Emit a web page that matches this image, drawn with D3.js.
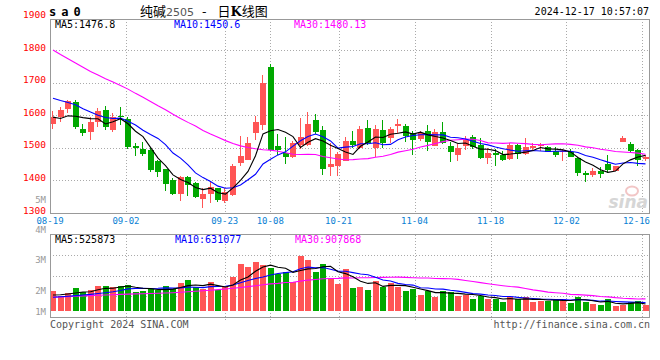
<!DOCTYPE html>
<html>
<head>
<meta charset="utf-8">
<script src="https://cdnjs.cloudflare.com/ajax/libs/d3/7.8.5/d3.min.js"></script>
<style>
  body { margin: 0; background: #fff; }
  svg { display: block; }
  text { font-family: "DejaVu Sans Mono", monospace; }
</style>
</head>
<body>
<svg id="chart" width="660" height="360"></svg>
<script>
// trading days 2024-08-19 .. 2024-12-17
var dates = ["08-19","08-20","08-21","08-22","08-23","08-26","08-27","08-28","08-29","08-30",
  "09-02","09-03","09-04","09-05","09-06","09-09","09-10","09-11","09-12","09-13",
  "09-18","09-19","09-20","09-23","09-24","09-25","09-26","09-27","09-30",
  "10-08","10-09","10-10","10-11","10-14","10-15","10-16","10-17","10-18","10-21",
  "10-22","10-23","10-24","10-25","10-28","10-29","10-30","10-31",
  "11-01","11-04","11-05","11-06","11-07","11-08","11-11","11-12","11-13","11-14","11-15",
  "11-18","11-19","11-20","11-21","11-22","11-25","11-26","11-27","11-28","11-29",
  "12-02","12-03","12-04","12-05","12-06","12-09","12-10","12-11","12-12","12-13","12-16","12-17"];

var opens = [1574,1594,1620,1642,1559,1549,1580,1617,1556,1598,1589,1505,1495,1493,1458,1434,1400,1357,1410,1391,
  1342,1358,1376,1337,1355,1452,1464,1545,1571,1749,1505,1484,1471,1510,1510,1584,1556,1441,1444,1461,
  1522,1500,1561,1500,1556,1530,1568,1568,1545,1527,1552,1507,1549,1504,1479,1504,1532,1509,1469,1483,
  1478,1466,1509,1481,1499,1504,1501,1491,1486,1488,1469,1422,1417,1430,1451,1430,1519,1512,1493,1466];
var highs = [1614,1624,1647,1647,1573,1593,1623,1629,1607,1624,1594,1515,1519,1500,1464,1436,1406,1412,1413,1395,
  1378,1395,1377,1377,1449,1535,1533,1598,1722,1756,1543,1532,1520,1591,1609,1605,1566,1515,1486,1532,
  1551,1566,1586,1571,1586,1564,1589,1574,1551,1552,1570,1557,1580,1519,1512,1537,1539,1529,1498,1496,
  1491,1514,1512,1529,1514,1514,1507,1501,1496,1496,1471,1430,1437,1440,1478,1445,1537,1519,1496,1478];
var lows = [1558,1578,1607,1558,1535,1525,1563,1556,1548,1571,1495,1476,1474,1425,1410,1367,1355,1336,1352,1347,
  1314,1332,1334,1332,1352,1444,1462,1523,1556,1490,1479,1449,1469,1495,1505,1543,1418,1413,1415,1459,
  1500,1497,1510,1472,1500,1515,1545,1518,1479,1520,1491,1504,1512,1456,1458,1493,1496,1466,1451,1445,
  1458,1463,1466,1478,1494,1489,1486,1471,1461,1471,1415,1395,1410,1407,1423,1428,1517,1488,1445,1461];
var closes = [1594,1617,1644,1563,1545,1579,1614,1565,1595,1593,1502,1499,1482,1431,1427,1388,1357,1410,1386,1349,
  1357,1379,1340,1365,1444,1474,1515,1580,1700,1493,1493,1471,1515,1532,1574,1548,1434,1450,1482,1522,
  1510,1559,1515,1559,1515,1559,1574,1537,1525,1545,1517,1549,1515,1486,1499,1524,1501,1469,1484,1479,
  1463,1509,1481,1501,1504,1509,1488,1478,1489,1473,1423,1418,1430,1420,1432,1443,1529,1491,1463,1473];

var ma5 = [1594,1590,1598,1597,1592.6,1589.6,1589,1573.2,1579.6,1589.2,1573.8,1550.8,1534.2,1501.4,1468.2,1445.4,1417,1402.6,1393.6,1378,
  1371.8,1376.2,1362.2,1358,1377,1400.4,1427.6,1475.6,1542.6,1552.4,1556.2,1547.4,1534.4,1500.8,1517,1528,1520.6,1507.6,1497.6,1487.2,
  1479.6,1504.6,1517.6,1533,1531.6,1541.4,1544.4,1548.8,1542,1548,1539.6,1534.6,1530.2,1522.4,1513.2,1514.6,1505,1495.8,1495.4,1491.4,
  1479.2,1480.8,1483.2,1486.6,1491.6,1500.8,1496.6,1496,1493.6,1487.4,1470.2,1456.2,1446.6,1432.8,1424.6,1428.6,1450.8,1463,1471.6,1476.8];
var ma10 = [1652,1645,1639,1632,1620,1610,1600,1593,1590,1590.9,1581.7,1569.9,1553.7,1540.5,1528.7,1509.6,1483.9,1468.4,1447.5,1423.1,
  1408.6,1396.6,1382.4,1375.8,1377.5,1386.1,1401.9,1418.9,1450.3,1464.7,1478.3,1487.5,1505,1521.7,1534.7,1542.1,1534,1521,1499.2,1502.1,
  1503.8,1512.6,1512.6,1515.3,1509.4,1510.5,1524.5,1533.2,1537.5,1539.8,1540.5,1539.5,1539.5,1532.2,1530.6,1527.1,1519.8,1513,1508.9,1502.3,
  1496.9,1492.9,1489.5,1491,1491.5,1490,1488.7,1489.6,1490.1,1489.5,1485.5,1476.4,1471.3,1463.2,1456,1449.4,1453.5,1454.8,1452.2,1450.6];
var ma30 = [1800,1786,1773,1760,1747,1734,1723,1712,1702,1691,1680,1667,1655,1642,1629,1617,1603,1590,1578,1567,
  1553,1542,1532,1522,1513,1506,1501,1497,1494,1492.9,1489.5,1484.7,1480.4,1479.3,1480.3,1479.3,1473.3,1469.4,1465.7,1463.3,
  1463.6,1465.6,1466.7,1470.9,1473.9,1479.6,1486.8,1491,1495.7,1502.2,1507.5,1513.2,1519,1523.1,1524.9,1526.6,1526.1,1522.4,1515.2,1514.7,
  1513.7,1515,1513.9,1512.8,1510.5,1509.2,1511,1511.9,1512.2,1510.5,1507.6,1502.9,1500.1,1495.5,1492.7,1488.8,1487.3,1485.8,1483.7,1480.13];

// volume, in 10k lots
var vols = [150,112.5,132.8,174.8,142.5,157.5,187.5,187.5,180,187.5,195,142.5,150,162.8,157.5,187.5,162.8,212.3,232.5,182.3,
  162.8,217.5,157.5,182.3,255,352.5,330,367.5,345,324.8,275.3,290.3,215.3,414.8,382.5,292.5,352.5,237.8,204.8,315,
  174.8,182.3,157.5,227.3,180,212.3,182.3,150,162.8,120,150,105,150,144.8,112.5,120,90,112.5,90,90,
  67.5,105,87.8,105,69.8,75,75,90,90,62.3,107.3,69.8,52.5,45,87.8,37.5,45,69.8,75,45];
var volMa5 = [120,122,128,135,142.5,144,159,170,171,180,187.5,178.5,171,167.6,161.6,160,164.1,176.6,190.5,195.5,
  190.5,201.5,190.5,180.5,195,233,255.5,297.5,330,344,328.5,320.6,290.1,304,315.6,319,331.5,336,294,280.5,
  257,222.9,206.9,211.4,184.4,191.9,191.9,190.4,177.5,165.5,153,137.6,137.6,134,132.5,126.5,123.5,116,105,100.5,
  90,93,88,91,87,88.5,82.5,83,80,78.5,84.9,83.9,76.4,67.4,72.5,58.5,53.6,57,63,52.6];
var volMa10 = [103,106.5,111,115.5,120,125,131,137,144,154,165.8,168.8,170.5,169.3,170.8,173.8,171.3,173.8,179,178.5,
  175.3,182.8,183.5,185.5,195.2,211.7,228.5,244,255.2,269.5,280.7,288,293.8,317,329.8,323.8,326,313,299,298,
  288,277.2,271.4,252.7,232.4,224.4,207.4,198.6,194.4,174.9,172.4,164.7,164,155.7,149,139.7,130.5,126.8,119.5,116.5,
  108.2,108.2,102,98,93.8,89.3,87.8,85.5,85.5,82.7,86.7,83.2,79.7,73.7,75.5,71.7,68.7,66.7,65.2,63.1];
var volMa30 = [102.8,105,107.3,110.3,113.3,115.5,117.8,120,122.3,124.5,126.8,128.3,129.8,131.3,132.8,135,137.3,140.3,144,147.8,
  151.5,156,160.5,165,170.3,176.3,183,189.8,196.5,203.1,207.2,213.2,215.9,224,231.9,236.4,242,243.6,244.4,248.7,
  248,249.3,249.6,251.7,252.5,253.3,254,251.9,249.5,247.5,247.1,243.3,243.1,241.8,237.1,229.3,221.3,212.8,204.3,196.5,
  189.5,183.4,179.1,168.8,158.4,151.1,141.9,137,133.1,124.7,122.5,118.7,115.2,109.1,106.1,100.2,95.6,93,90.1,90.8];

var priceTicks = [1300, 1400, 1500, 1600, 1700, 1800, 1900];
var volTicks = [100, 200, 300, 400, 500];
var volTickLabels = ["1M", "2M", "3M", "4M", "5M"];
var dateTicks = ["08-19", "09-02", "09-23", "10-08", "10-21", "11-04", "11-18", "12-02", "12-16"];

var RED = '#ff5555', GREEN = '#00a800', GRID = '#aaa', BORDER = '#999';
var left = 50, right = 650;
var pTop = 19, pBottom = 213, vTop = 235, vBottom = 318, vBase = 311;
var n = dates.length;

var svg = d3.select('#chart');

var xBar = d3.scaleLinear().domain([0, n]).range([left, right]);
var xGrid = d3.scaleLinear().domain([0, n - 1]).range([left, right]);
var yPrice = d3.scaleLinear().domain([1300, 1800]).range([213, 50]);
var yVol = d3.scaleLinear().domain([0, 600]).range([vBase, vBase - 80]);
var yVolLabel = d3.scaleLinear().domain([200, 500]).range([291, 200]);

var defs = svg.append('defs');
defs.append('clipPath').attr('id', 'clipP')
  .append('rect').attr('x', left).attr('y', pTop).attr('width', right - left).attr('height', pBottom - pTop);
defs.append('clipPath').attr('id', 'clipV')
  .append('rect').attr('x', left).attr('y', vTop).attr('width', right - left).attr('height', vBottom - vTop);

var px = function(v) { return Math.round(v) + 0.5; };

// grid
var grid = svg.append('g').attr('stroke', GRID).attr('stroke-dasharray', '1,2')
  .attr('shape-rendering', 'crispEdges');
grid.selectAll('line.hp').data(priceTicks.filter(function(p) { return p > 1300 && p < 1900; }))
  .join('line').attr('class', 'hp')
  .attr('x1', left).attr('x2', right)
  .attr('y1', function(d) { return px(yPrice(d)); }).attr('y2', function(d) { return px(yPrice(d)); });
grid.selectAll('line.hv').data([1, 2, 3]).join('line').attr('class', 'hv')
  .attr('x1', left).attr('x2', right)
  .attr('y1', function(d) { return px(vTop + 20.3 * d); }).attr('y2', function(d) { return px(vTop + 20.3 * d); });
var dateIdx = dateTicks.map(function(d) { return dates.indexOf(d); });
grid.selectAll('line.vp').data(dateIdx.slice(1)).join('line').attr('class', 'vp')
  .attr('x1', function(d) { return px(xGrid(d)); }).attr('x2', function(d) { return px(xGrid(d)); })
  .attr('y1', pTop).attr('y2', pBottom);
grid.selectAll('line.vv').data(dateIdx.slice(1)).join('line').attr('class', 'vv')
  .attr('x1', function(d) { return px(xGrid(d)); }).attr('x2', function(d) { return px(xGrid(d)); })
  .attr('y1', vTop).attr('y2', vBottom + 3);

// watermark
var wm = svg.append('g');
wm.append('ellipse').attr('cx', 632).attr('cy', 191).attr('rx', 6).attr('ry', 4.5)
  .attr('fill', 'none').attr('stroke', '#f2c6c6').attr('stroke-width', 2);
wm.append('text').attr('x', 648).attr('y', 208).attr('text-anchor', 'end')
  .style('font-family', '"DejaVu Sans", sans-serif').style('font-style', 'italic').style('font-weight', 'bold')
  .style('font-size', '17px').attr('fill', '#d6d6d6').text('sina');

// candles
var candles = svg.append('g').attr('clip-path', 'url(#clipP)').attr('shape-rendering', 'crispEdges');
var ci = candles.selectAll('g').data(d3.range(n)).join('g');
ci.append('line')
  .attr('x1', function(i) { return Math.round(xBar(i)) + 2.5; })
  .attr('x2', function(i) { return Math.round(xBar(i)) + 2.5; })
  .attr('y1', function(i) { return Math.round(yPrice(highs[i])); })
  .attr('y2', function(i) { return Math.round(yPrice(lows[i])); })
  .attr('stroke', function(i) { return closes[i] >= opens[i] ? RED : GREEN; });
ci.append('rect')
  .attr('x', function(i) { return Math.round(xBar(i)); })
  .attr('width', 6)
  .attr('y', function(i) { return Math.round(yPrice(Math.max(opens[i], closes[i]))); })
  .attr('height', function(i) {
    return Math.max(1, Math.round(yPrice(Math.min(opens[i], closes[i]))) - Math.round(yPrice(Math.max(opens[i], closes[i]))));
  })
  .attr('fill', function(i) { return closes[i] >= opens[i] ? RED : GREEN; });

// volume bars
var vbars = svg.append('g').attr('clip-path', 'url(#clipV)').attr('shape-rendering', 'crispEdges');
vbars.selectAll('rect').data(d3.range(n)).join('rect')
  .attr('x', function(i) { return Math.round(xBar(i)); })
  .attr('width', 6)
  .attr('y', function(i) { return Math.round(yVol(vols[i])); })
  .attr('height', function(i) { return vBase - Math.round(yVol(vols[i])); })
  .attr('fill', function(i) { return closes[i] >= opens[i] ? RED : GREEN; });

// moving averages
var drawLine = function(arr, y, color, clip) {
  var line = d3.line()
    .x(function(d, i) { return xBar(i) + 3; })
    .y(function(d) { return y(d); });
  svg.append('path').datum(arr)
    .attr('clip-path', clip)
    .attr('fill', 'none').attr('stroke', color).attr('stroke-width', 1.1)
    .attr('d', line);
};
drawLine(ma30, yPrice, '#ff00ff', 'url(#clipP)');
drawLine(ma10, yPrice, '#0000ff', 'url(#clipP)');
drawLine(ma5, yPrice, '#000000', 'url(#clipP)');
drawLine(volMa30, yVol, '#ff00ff', 'url(#clipV)');
drawLine(volMa10, yVol, '#0000ff', 'url(#clipV)');
drawLine(volMa5, yVol, '#000000', 'url(#clipV)');

// panel borders
svg.append('rect').attr('x', left + 0.5).attr('y', pTop + 0.5)
  .attr('width', right - left - 1).attr('height', pBottom - pTop)
  .attr('fill', 'none').attr('stroke', BORDER).attr('shape-rendering', 'crispEdges');
svg.append('rect').attr('x', left + 0.5).attr('y', vTop - 0.5)
  .attr('width', right - left - 1).attr('height', vBottom - vTop)
  .attr('fill', 'none').attr('stroke', BORDER).attr('shape-rendering', 'crispEdges');

// price axis labels
svg.append('g').selectAll('text').data(priceTicks).join('text')
  .attr('x', 46).attr('y', function(d) { return yPrice(d) - 2; })
  .attr('text-anchor', 'end').attr('dominant-baseline', 'middle')
  .style('font-size', '9.5px').attr('fill', '#ff0000')
  .text(function(d) { return d; });

// volume axis labels (sina draws them on their own scale)
svg.append('g').selectAll('text').data(volTicks).join('text')
  .attr('x', 46).attr('y', function(d) { return Math.min(312, yVolLabel(d)); })
  .attr('text-anchor', 'end').attr('dominant-baseline', 'middle')
  .style('font-size', '9px').attr('fill', '#999')
  .text(function(d, i) { return volTickLabels[i]; });

// date labels
svg.append('g').selectAll('text').data(dateTicks).join('text')
  .attr('x', function(d) { var x = xGrid(dates.indexOf(d)); return x + 15 > right ? right : x; })
  .attr('y', 223.5)
  .attr('text-anchor', function(d) { return xGrid(dates.indexOf(d)) + 15 > right ? 'end' : 'middle'; })
  .style('font-size', '9px').attr('fill', '#0a7fd4')
  .text(function(d) { return d; });

// titles
svg.append('text').attr('x', 49).attr('y', 16)
  .style('font-size', '12px').style('font-weight', 'bold').style('letter-spacing', '5px')
  .attr('fill', '#000').text('sa0');
var title = svg.append('text').attr('x', 140).attr('y', 16)
  .style('font-family', '"Noto Sans CJK SC", sans-serif').style('font-size', '13px').attr('fill', '#000');
title.append('tspan').text('纯碱');
title.append('tspan').style('font-family', '"DejaVu Sans", sans-serif').style('font-size', '11px')
  .attr('fill', '#555').text('2505');
title.append('tspan').attr('dx', 8).text('-');
title.append('tspan').attr('dx', 11).text('日');
title.append('tspan').style('font-weight', 'bold').style('font-family', '"DejaVu Serif", serif').text('K');
title.append('tspan').text('线图');
svg.append('text').attr('x', 649).attr('y', 15).attr('text-anchor', 'end')
  .style('font-size', '10px').attr('fill', '#000').text('2024-12-17 10:57:07');

// legends
var legend = function(y, items) {
  svg.append('g').selectAll('text').data(items).join('text')
    .attr('x', function(d) { return d.x; }).attr('y', y)
    .style('font-size', '10px').attr('fill', function(d) { return d.c; })
    .text(function(d) { return d.t; });
};
legend(28, [
  { x: 55, c: '#000', t: 'MA5:' + ma5[n - 1] },
  { x: 174, c: '#0000ff', t: 'MA10:' + ma10[n - 1] },
  { x: 294, c: '#ff00ff', t: 'MA30:' + ma30[n - 1] }
]);
legend(243, [
  { x: 55, c: '#000', t: 'MA5:525873' },
  { x: 175, c: '#0000ff', t: 'MA10:631077' },
  { x: 295, c: '#ff00ff', t: 'MA30:907868' }
]);

// footer
svg.append('text').attr('x', 50).attr('y', 328)
  .style('font-size', '10px').attr('fill', '#555').text('Copyright 2024 SINA.COM');
svg.append('text').attr('x', 650).attr('y', 328).attr('text-anchor', 'end')
  .style('font-size', '10px').attr('fill', '#555').text('http://finance.sina.com.cn');
</script>
</body>
</html>
